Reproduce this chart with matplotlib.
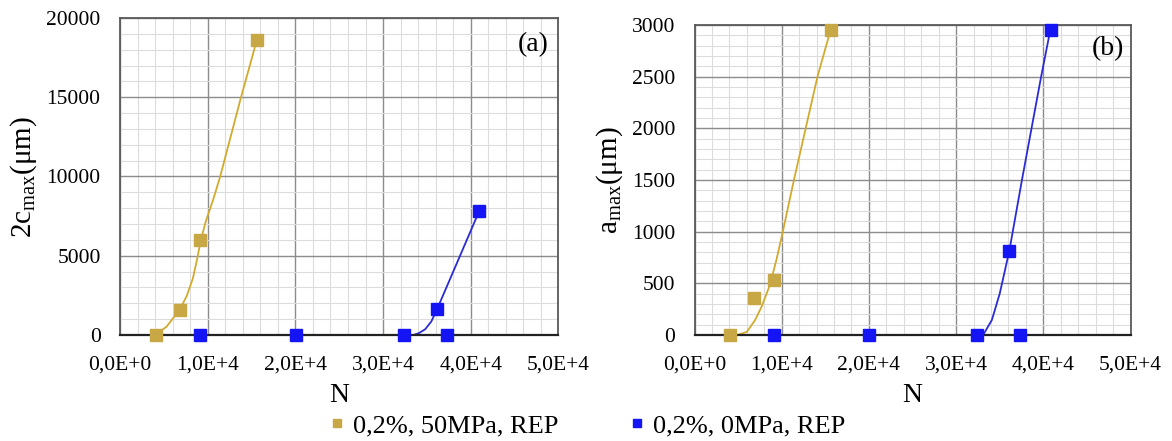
import matplotlib

matplotlib.use("Agg")
import matplotlib.pyplot as plt
from matplotlib.ticker import MultipleLocator

plt.rcParams["font.family"] = ["Liberation Serif", "DejaVu Serif"]
plt.rcParams["mathtext.fontset"] = "custom"
plt.rcParams["mathtext.rm"] = "Liberation Serif"

# measured points (markers)
n_gold = [4100, 6800, 9100, 15600]
c2_gold = [0, 1600, 6000, 18600]
a_gold = [0, 355, 535, 2950]

n_blue = [9100, 20050, 32400, 36100, 37300, 40900]
c2_blue = [0, 0, 0, 1620, 0, 7800]
a_blue = [0, 0, 0, 815, 0, 2955]

# trend curves
curve_n_gold_c = [4000, 5300, 6800, 7600, 8300, 8800, 9200, 9800, 10600, 11400, 13800, 15600]
curve_gold_c = [0, 520, 1600, 2450, 3550, 4800, 5950, 7200, 8500, 9950, 15000, 18600]
curve_n_blue_c = [33450, 34100, 34800, 35500, 36150, 37450, 38700, 39900, 40950]
curve_blue_c = [0, 120, 360, 850, 1620, 3290, 4900, 6450, 7800]

curve_n_gold_a = [4900, 6000, 6950, 7700, 8650, 9400, 10100, 11400, 12750, 14100, 15600]
curve_gold_a = [0, 30, 145, 275, 485, 730, 990, 1500, 2000, 2500, 2950]
curve_n_blue_a = [33100, 34100, 35000, 36100, 37550, 38650, 39750, 40800]
curve_blue_a = [0, 145, 400, 813, 1500, 2000, 2500, 2950]

label_gold = "0,2%, 50MPa, REP"
label_blue = "0,2%, 0MPa, REP"
x_ticks = [0, 10000, 20000, 30000, 40000, 50000]
x_ticklabels = ["0,0E+0", "1,0E+4", "2,0E+4", "3,0E+4", "4,0E+4", "5,0E+4"]

GOLD = "#C8A745"
GOLD_LINE = "#D1AA2E"
BLUE = "#1414F5"
BLUE_LINE = "#2B2BD6"

fig = plt.figure(figsize=(11.72, 4.41), dpi=100)
ax_a = fig.add_axes([0.1024, 0.2404, 0.3741, 0.7188])
ax_b = fig.add_axes([0.5926, 0.2404, 0.3720, 0.7030])


def style_axis(ax, ymax, ymajor, yminor):
    ax.set_xlim(0, 50000)
    ax.set_ylim(0, ymax)
    ax.set_xticks(x_ticks)
    ax.set_xticklabels(x_ticklabels)
    ax.xaxis.set_minor_locator(MultipleLocator(2000))
    ax.yaxis.set_major_locator(MultipleLocator(ymajor))
    ax.yaxis.set_minor_locator(MultipleLocator(yminor))
    ax.grid(which="major", color="#8c8c8c", linewidth=1.0)
    ax.grid(which="minor", color="#dcdcdc", linewidth=0.8)
    ax.set_axisbelow(True)
    ax.tick_params(which="both", length=0, labelsize=15.5)
    ax.tick_params(axis="x", pad=15)
    ax.tick_params(axis="y", pad=14)
    for side in ["left", "top", "right"]:
        ax.spines[side].set_color("#5a5a5a")
        ax.spines[side].set_linewidth(1.3)
    ax.spines["bottom"].set_color("#222222")
    ax.spines["bottom"].set_linewidth(1.6)
    ax.set_xlabel("N", fontsize=20, labelpad=6)


style_axis(ax_a, 20000, 5000, 1000)
style_axis(ax_b, 3000, 500, 100)

ax_a.plot(curve_n_gold_c, curve_gold_c, color=GOLD_LINE, linewidth=1.3)
ax_a.plot(curve_n_blue_c, curve_blue_c, color=BLUE_LINE, linewidth=1.3)
ax_a.plot(n_gold, c2_gold, "s", color=GOLD, markersize=8.5, clip_on=False, zorder=5)
ax_a.plot(n_blue, c2_blue, "s", color=BLUE, markersize=8.5, clip_on=False, zorder=5)
ax_a.set_ylabel("2c$_{\\mathrm{max}}$(μm)", fontsize=21, labelpad=5)
ax_a.text(0.978, 0.915, "(a)", transform=ax_a.transAxes, fontsize=20, ha="right", va="center")

ax_b.plot(curve_n_gold_a, curve_gold_a, color=GOLD_LINE, linewidth=1.3)
ax_b.plot(curve_n_blue_a, curve_blue_a, color=BLUE_LINE, linewidth=1.3)
h_gold, = ax_b.plot(n_gold, a_gold, "s", color=GOLD, markersize=8.5, clip_on=False, zorder=5)
h_blue, = ax_b.plot(n_blue, a_blue, "s", color=BLUE, markersize=8.5, clip_on=False, zorder=5)
ax_b.set_ylabel("a$_{\\mathrm{max}}$(μm)", fontsize=21, labelpad=5)
ax_b.text(0.985, 0.925, "(b)", transform=ax_b.transAxes, fontsize=20, ha="right", va="center")

fig.legend(
    [h_gold, h_blue],
    [label_gold, label_blue],
    loc="center",
    bbox_to_anchor=(0.501, 0.035),
    ncol=2,
    frameon=False,
    fontsize=19,
    markerscale=0.75,
    handlelength=0.6,
    handletextpad=0.3,
    columnspacing=2.7,
)

fig.savefig("out.png", dpi=100)
